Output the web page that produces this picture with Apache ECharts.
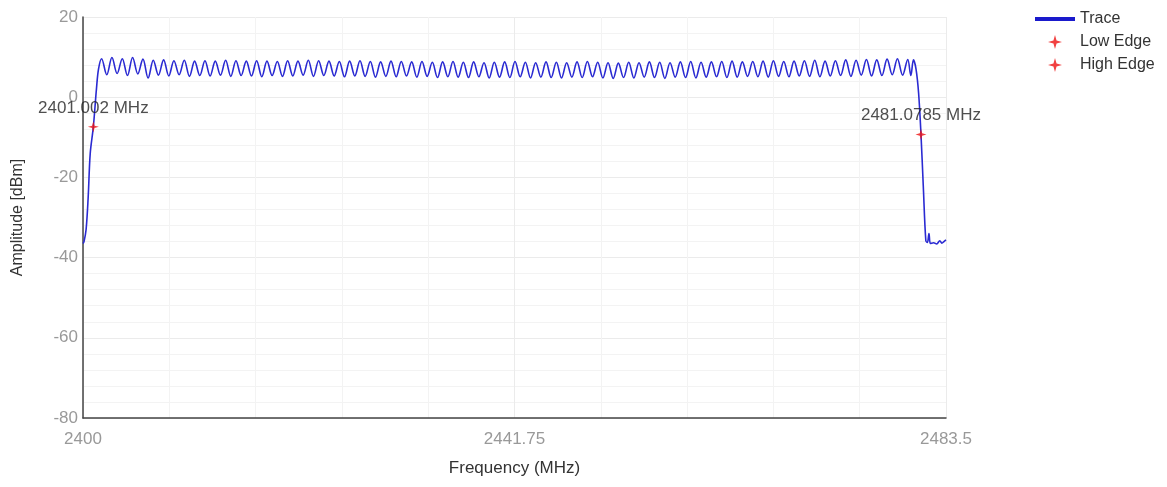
<!DOCTYPE html>
<html>
<head>
<meta charset="utf-8">
<script src="https://cdn.jsdelivr.net/npm/echarts@6/dist/echarts.min.js"></script>
<style>
html,body{margin:0;padding:0;background:#fff;}
#chart{width:1167px;height:487px;}
</style>
</head>
<body>
<div id="chart"></div>
<script>
// Frequency (MHz), amplitude (dBm) pairs
const trace = [
[2400.0,-36.5],[2400.1,-36.0],[2400.3,-33.0],[2400.5,-25.0],[2400.7,-14.0],[2401.0,-7.4],[2401.3,2.0],[2401.5,7.0],
[2401.8,9.6],[2402.3,5.6],[2402.8,9.9],[2403.3,5.9],[2403.8,9.6],[2404.3,5.4],[2404.8,9.9],[2405.3,5.8],
[2405.8,9.5],[2406.3,4.8],[2406.8,9.2],[2407.3,5.5],[2407.8,9.3],[2408.3,5.3],[2408.8,9.1],[2409.3,5.6],
[2409.8,9.2],[2410.3,5.2],[2410.8,9.0],[2411.3,5.4],[2411.8,9.1],[2412.3,5.3],[2412.8,9.0],[2413.3,5.5],
[2413.8,9.2],[2414.3,5.2],[2414.8,9.1],[2415.3,5.4],[2415.8,9.0],[2416.3,5.3],[2416.8,9.1],[2417.3,5.1],
[2417.8,9.0],[2418.3,5.4],[2418.8,8.9],[2419.3,5.2],[2419.8,9.1],[2420.3,5.3],[2420.8,9.0],[2421.3,5.5],
[2421.8,9.2],[2422.3,5.2],[2422.8,9.1],[2423.3,5.4],[2423.8,9.0],[2424.3,5.3],[2424.8,8.9],[2425.3,5.1],
[2425.8,9.0],[2426.3,5.3],[2426.8,9.1],[2427.3,5.2],[2427.8,8.9],[2428.3,5.0],[2428.8,8.8],[2429.3,5.2],
[2429.8,9.0],[2430.3,5.1],[2430.8,8.9],[2431.3,5.3],[2431.8,8.8],[2432.3,5.0],[2432.8,8.9],[2433.3,5.2],
[2433.8,8.7],[2434.3,4.9],[2434.8,8.8],[2435.3,5.1],[2435.8,8.9],[2436.3,5.0],[2436.8,8.7],[2437.3,4.9],
[2437.8,8.8],[2438.3,5.1],[2438.8,8.6],[2439.3,4.8],[2439.8,8.7],[2440.3,5.0],[2440.8,8.8],[2441.3,4.9],
[2441.8,8.9],[2442.3,5.1],[2442.8,8.7],[2443.3,4.8],[2443.8,8.6],[2444.3,5.0],[2444.8,8.8],[2445.3,4.9],
[2445.8,8.7],[2446.3,4.8],[2446.8,8.6],[2447.3,5.0],[2447.8,8.8],[2448.3,4.9],[2448.8,8.9],[2449.3,5.1],
[2449.8,8.7],[2450.3,4.8],[2450.8,8.6],[2451.3,4.7],[2451.8,8.5],[2452.3,4.9],[2452.8,8.7],[2453.3,4.8],
[2453.8,8.6],[2454.3,5.0],[2454.8,8.8],[2455.3,4.9],[2455.8,8.7],[2456.3,4.7],[2456.8,8.6],[2457.3,5.0],
[2457.8,8.8],[2458.3,4.9],[2458.8,8.9],[2459.3,4.8],[2459.8,8.7],[2460.3,5.0],[2460.8,8.8],[2461.3,5.1],
[2461.8,8.9],[2462.3,4.9],[2462.8,9.0],[2463.3,5.0],[2463.8,8.8],[2464.3,5.2],[2464.8,8.9],[2465.3,5.1],
[2465.8,9.0],[2466.3,5.0],[2466.8,9.1],[2467.3,5.2],[2467.8,8.9],[2468.3,5.1],[2468.8,9.0],[2469.3,5.3],
[2469.8,9.1],[2470.3,5.2],[2470.8,9.2],[2471.3,5.1],[2471.8,9.0],[2472.3,5.3],[2472.8,9.1],[2473.3,5.4],
[2473.8,9.3],[2474.3,5.2],[2474.8,9.2],[2475.3,5.5],[2475.8,9.4],[2476.3,5.3],[2476.8,9.3],[2477.3,5.4],
[2477.8,9.5],[2478.3,5.6],[2478.8,9.6],[2479.3,5.5],[2479.8,9.4],[2480.1,5.4],[2480.35,9.3],[2480.6,7.0],
[2480.85,1.0],[2481.08,-9.3],[2481.3,-22.0],[2481.55,-35.8],[2481.7,-36.2],[2481.85,-34.0],[2482.0,-36.5],
[2482.3,-36.3],[2482.6,-36.6],[2482.9,-35.8],[2483.1,-36.4],[2483.3,-36.0],[2483.5,-35.6]
];
const lowEdge = [2401.002, -7.4];
const highEdge = [2481.0785, -9.3];
const xTicks = [2400, 2441.75, 2483.5];
const yTicks = [-80, -60, -40, -20, 0, 20];

const FONT = '"Liberation Sans", Arial, sans-serif';
const STAR = 'path://M0,-10 L2.2,-2.2 L10,0 L2.2,2.2 L0,10 L-2.2,2.2 L-10,0 L-2.2,-2.2 Z';

const chart = echarts.init(document.getElementById('chart'), null, {renderer: 'canvas'});
chart.setOption({
  animation: false,
  backgroundColor: '#ffffff',
  textStyle: {fontFamily: FONT},
  grid: {left: 83, right: 221, top: 17, bottom: 69, containLabel: false},
  legend: {
    orient: 'vertical', left: 1030, top: 6, itemWidth: 40, itemHeight: 14, itemGap: 7,
    textStyle: {fontFamily: FONT, fontSize: 16, color: '#333'},
    data: [
      {name: 'Trace', icon: 'path://M0,0 L30,0 L30,3 L0,3 Z', itemStyle: {color: '#1a1acc'}},
      {name: 'Low Edge', icon: STAR},
      {name: 'High Edge', icon: STAR}
    ]
  },
  xAxis: {
    type: 'value', min: xTicks[0], max: xTicks[2], interval: xTicks[1] - xTicks[0],
    name: 'Frequency (MHz)', nameLocation: 'middle', nameGap: 42,
    nameTextStyle: {fontFamily: FONT, fontSize: 17, color: '#333'},
    axisLine: {show: true, onZero: false, lineStyle: {color: '#444', width: 1.5}},
    axisTick: {show: false},
    axisLabel: {fontFamily: FONT, fontSize: 17, color: '#999', margin: 13, formatter: v => String(v)},
    splitLine: {show: true, lineStyle: {color: '#ebebeb', width: 1}},
    minorTick: {show: false, splitNumber: 5},
    minorSplitLine: {show: true, lineStyle: {color: '#f3f3f3', width: 1}}
  },
  yAxis: {
    type: 'value', min: yTicks[0], max: yTicks[yTicks.length - 1], interval: 20,
    name: 'Amplitude [dBm]', nameLocation: 'middle', nameGap: 57, nameRotate: 90,
    nameTextStyle: {fontFamily: FONT, fontSize: 16, color: '#333'},
    axisLine: {show: true, onZero: false, lineStyle: {color: '#444', width: 1.5}},
    axisTick: {show: false},
    axisLabel: {fontFamily: FONT, fontSize: 17, color: '#999', margin: 5, formatter: v => String(v)},
    splitLine: {show: true, lineStyle: {color: '#ebebeb', width: 1}},
    minorTick: {show: false, splitNumber: 5},
    minorSplitLine: {show: true, lineStyle: {color: '#f3f3f3', width: 1}}
  },
  series: [
    {
      name: 'Trace', type: 'line', data: trace, symbol: 'none', smooth: 0.35,
      lineStyle: {color: '#2a2ad2', width: 1.6}, itemStyle: {color: '#1a1acc'}, z: 2
    },
    {
      name: 'Low Edge', type: 'scatter', data: [lowEdge], symbol: STAR, symbolSize: 11,
      itemStyle: {color: '#ee1111'}, z: 5,
      label: {show: true, position: 'top', distance: 5, fontFamily: FONT, fontSize: 17, color: '#222',
        formatter: p => p.value[0] + ' MHz'}
    },
    {
      name: 'High Edge', type: 'scatter', data: [highEdge], symbol: STAR, symbolSize: 11,
      itemStyle: {color: '#ee1111'}, z: 5,
      label: {show: true, position: 'top', distance: 5, fontFamily: FONT, fontSize: 17, color: '#222',
        formatter: p => p.value[0] + ' MHz'}
    }
  ]
});
</script>
</body>
</html>
